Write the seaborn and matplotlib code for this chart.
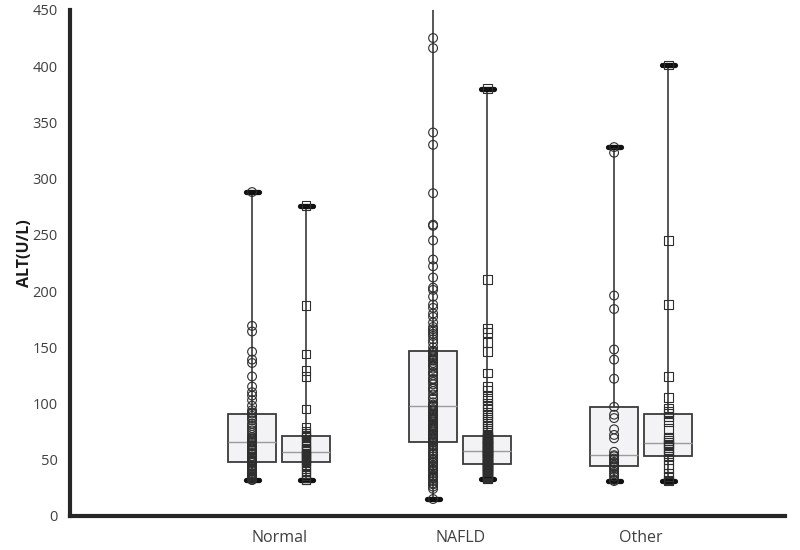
import numpy as np
import pandas as pd
import matplotlib
matplotlib.use("Agg")
import matplotlib.pyplot as plt
import seaborn as sns

# ---------------- data ----------------
groups = ["Normal", "NAFLD", "Other"]
series = ["Series 1", "Series 2"]          # circles, squares

normal_s1 = [32, 32, 33, 34, 35, 36, 37, 38, 40, 41, 42, 44, 45, 47,
             48,
             49, 50, 51, 52, 53, 55, 56, 58, 59, 60, 62, 63, 65,
             66,
             67, 68, 69, 70, 72, 74, 76, 78, 80, 82, 85, 87, 89,
             91,
             92, 94, 98, 103, 107, 110, 115, 124, 136, 139, 146, 164, 169, 288]
normal_s2 = [32, 32, 34, 36, 38, 40, 42, 44, 45, 47,
             48,
             49, 50, 51, 52, 53, 53, 54, 55, 56,
             57,
             58, 59, 60, 62, 63, 65, 66, 68, 70,
             71,
             72, 73, 75, 79, 95, 124, 129, 144, 187, 276]
nafld_s1 = [15, 24, 26, 28, 29, 31, 33, 34, 35, 36, 38, 40, 41, 42, 44,
            45, 47, 48, 50, 51, 53, 55, 56, 58, 60, 62, 63, 65,
            66,
            67, 68, 69, 70, 72, 72, 73, 75, 76, 77, 78, 79, 80, 81, 82,
            84, 85, 86, 87, 88, 89, 90, 91, 93, 94, 95, 97,
            98,
            99, 101, 104, 105, 108, 111, 113, 114, 117, 119, 121, 122, 125, 127,
            128, 131, 133, 134, 136, 138, 139, 140, 141, 142, 143, 145, 146,
            147,
            150, 154, 157, 160, 162, 164, 166, 168, 172, 177, 180, 185, 188, 195,
            201, 203, 212, 222, 228, 245, 258, 259, 287, 330, 341, 416, 425, 560]
nafld_s2 = [33, 33, 34, 35, 35, 36, 37, 37, 38, 39, 39, 40, 40, 41, 41,
            42, 42, 43, 43, 44, 44, 45, 45, 45, 46,
            46,
            47, 47, 48, 49, 49, 50, 50, 50, 51, 52, 52, 53, 53, 53, 54, 55,
            55, 56, 56, 56, 57, 57, 58, 58,
            58,
            59, 59, 60, 61, 61, 62, 62, 63, 63, 63, 64, 65, 65, 66, 66, 67,
            67, 68, 68, 69, 69, 70, 70, 70,
            71,
            72, 74, 76, 78, 80, 82, 84, 86, 88, 90, 92, 95, 97, 100, 103, 106,
            112, 115, 127, 146, 154, 163, 167, 210, 380]
other_s1 = [31, 32, 35, 37, 39, 41, 43,
            44,
            45, 47, 48, 50, 51, 53,
            54,
            57, 69, 72, 77, 87, 90,
            97,
            122, 139, 148, 184, 196, 323, 328]
other_s2 = [31, 32, 35, 38, 42, 46, 50,
            53,
            55, 57, 59, 61, 63, 64,
            65,
            67, 69, 70, 78, 84, 88,
            91,
            93, 96, 105, 124, 188, 245, 401]

y_ticks = [0, 50, 100, 150, 200, 250, 300, 350, 400, 450]
y_label = "ALT(U/L)"

# ---------------- build table ----------------
rows = []
for g, s1, s2 in zip(groups, [normal_s1, nafld_s1, other_s1],
                     [normal_s2, nafld_s2, other_s2]):
    rows += [(g, series[0], v) for v in s1]
    rows += [(g, series[1], v) for v in s2]
df = pd.DataFrame(rows, columns=["group", "series", "alt"])

# ---------------- style ----------------
sns.set_style("white")
plt.rcParams["font.family"] = ["Open Sans", "DejaVu Sans"]

BOX_FILL = "#f3f3f5"
EDGE = "#3a3a3a"
TEXT = "#404040"
BOX_WIDTH = 0.597
GAP = 0.112

fig = plt.figure(figsize=(8, 5.5), dpi=100)
ax = fig.add_axes([0.0875, 0.062, 0.894, 0.92])

sns.boxplot(data=df, x="group", y="alt", hue="series", order=groups,
            hue_order=series, whis=(0, 100), width=BOX_WIDTH, gap=GAP,
            dodge=True, palette=[BOX_FILL, BOX_FILL], saturation=1,
            linecolor=EDGE, linewidth=1.3, showfliers=False,
            medianprops=dict(color="#9c9c9c", linewidth=1.0),
            whiskerprops=dict(color=EDGE, linewidth=1.2),
            capprops=dict(color="#111111", linewidth=3.8),
            capwidths=0.072, legend=False, ax=ax)

# individual points, same dodge offsets as the boxes
offsets = {series[0]: -BOX_WIDTH / 4, series[1]: BOX_WIDTH / 4}
df["xpos"] = df["group"].map({g: i for i, g in enumerate(groups)}) + df["series"].map(offsets)
sns.scatterplot(data=df, x="xpos", y="alt", style="series", style_order=series,
                markers={series[0]: "o", series[1]: "s"}, s=40,
                color="#2e2e2e", linewidth=0.8, legend=False, zorder=3, ax=ax)
pts = ax.collections[-1]
pts.set_facecolor("none")
pts.set_edgecolor("#2e2e2e")
pts.set_linewidth(0.8)

# ---------------- axes ----------------
ax.set_xlim(-1.155, 2.796)
ax.set_ylim(0, 450)
ax.set_yticks(y_ticks)
ax.set_xticks(range(len(groups)))
ax.set_xticklabels(groups)
ax.set_xlabel("")
ax.set_ylabel(y_label, fontsize=11.5, fontweight="bold", color="#1a1a1a")
ax.yaxis.set_label_coords(-0.052, 0.52)

for side in ["top", "right"]:
    ax.spines[side].set_visible(False)
for side in ["left", "bottom"]:
    ax.spines[side].set_linewidth(3)
    ax.spines[side].set_color("#262626")

ax.tick_params(axis="y", length=5, width=2.5, color="#262626",
               labelsize=10.5, labelcolor=TEXT, pad=4)
ax.tick_params(axis="x", length=0, labelsize=11.5, labelcolor=TEXT, pad=10)
ax.grid(False)

fig.savefig("out.png", dpi=100)
